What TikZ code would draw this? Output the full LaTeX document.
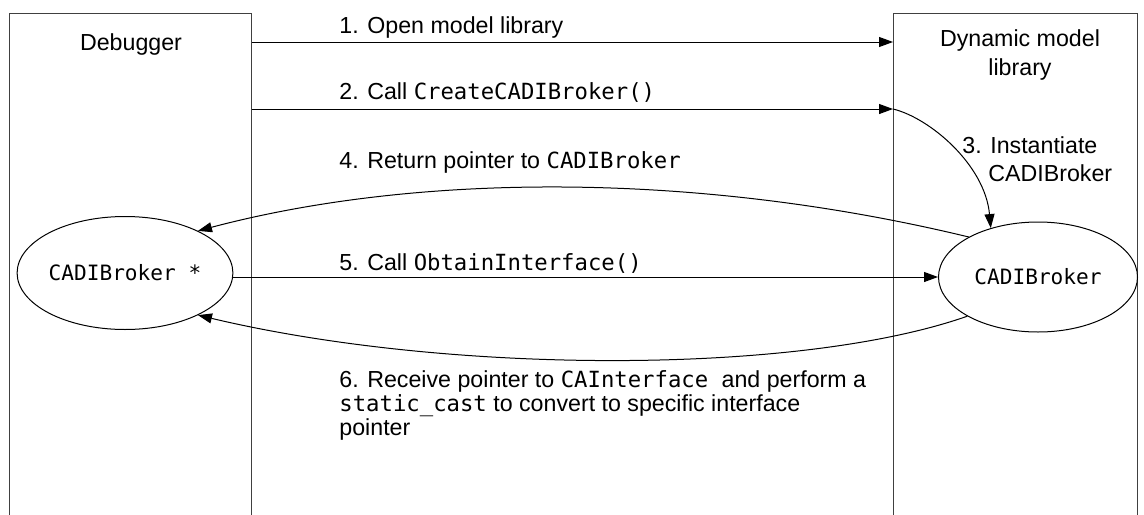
\documentclass[tikz,border=0pt]{standalone}
\usepackage{fontspec}
\setmainfont{Liberation Sans}
\setmonofont{DejaVu Sans Mono}[Scale=0.96]
\usetikzlibrary{arrows.meta,shapes.geometric}

\tikzset{
  lane/.style={draw=black!75, line width=0.7pt, minimum width=121pt, minimum height=300pt, anchor=north west, inner sep=0pt},
  obj/.style={draw, ellipse, line width=0.5pt, inner sep=0pt, font=\fontsize{11}{13}\selectfont\ttfamily},
  msg/.style={-{Triangle[length=7pt,width=5pt]}, line width=0.5pt},
  lbl/.style={anchor=base west, inner sep=0pt, align=left},
}

\begin{document}
\begin{tikzpicture}[x=0.5pt,y=-0.5pt,font=\fontsize{11.6}{14}\selectfont]
\useasboundingbox (0,0) rectangle (1144,514);
% lanes
\node[lane] (dbg) at (9,13) {};
\node[lane, minimum width=122pt] (dml) at (893,13) {};
\node[anchor=base, inner sep=0pt] (dbgtitle) at (131,50) {Debugger};
\node[anchor=base, inner sep=0pt, align=center] (dmltitle) at (1020,75) {Dynamic model\\library};
% objects
\node[obj, minimum width=104pt, minimum height=56.5pt] (lcadi) at (125,273) {CADIBroker *};
\node[obj, minimum width=99.5pt, minimum height=55pt] (rcadi) at (1038,277) {CADIBroker};
% rows
\coordinate (r1) at (0,42);
\coordinate (r2) at (0,109);
% messages
\draw[msg] (dbg.east |- r1) -- (dml.west |- r1);
\draw[msg] (dbg.east |- r2) -- (dml.west |- r2) coordinate (a2);
\draw[msg] (a2) .. controls (930,118) and (985,165) .. (rcadi.134);
\draw[msg] (rcadi.150) .. controls (700,172) and (420,172) .. (lcadi.30);
\draw[msg] (lcadi.east |- rcadi) -- (rcadi);
\draw[msg] (rcadi.209) .. controls (800,375) and (450,375) .. (lcadi.-30);
% labels
\node[lbl] (l1) at (339,33) {1. Open model library};
\node[lbl] (l2) at (339,99) {2. Call \texttt{CreateCADIBroker()}};
\node[lbl] (l3) at (962,181) {3. Instantiate\\\hspace*{13pt}CADIBroker};
\node[lbl] (l4) at (339,168) {4. Return pointer to \texttt{CADIBroker}};
\node[lbl] (l5) at (339,270) {5. Call \texttt{ObtainInterface()}};
\node[lbl, font=\fontsize{11.6}{11.8}\selectfont] (l6) at (339,435) {6. Receive pointer to \texttt{CAInterface }and perform a\\\texttt{static\_cast} to convert to specific interface\\pointer};
\end{tikzpicture}
\end{document}
